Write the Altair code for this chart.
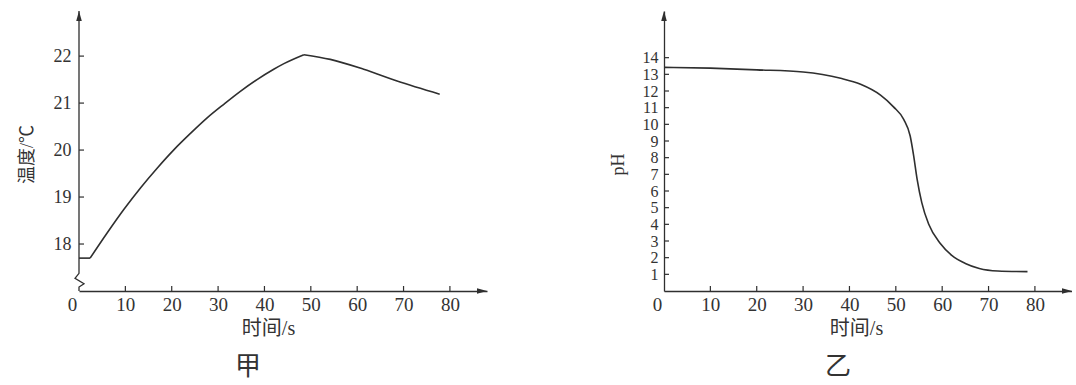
import altair as alt
import pandas as pd

# ---------- data ----------
# 甲: temperature vs time (seg: 0 = flat start, 1 = rise, 2 = fall)
t_jia = [0, 2.4, 2.4, 6.1, 9.7, 13.3, 16.9, 20.5, 24.1, 27.7, 31.3, 34.8, 38.4, 42.0,
         44.2, 48.5, 48.5, 54.2, 61.4, 68.6, 77.8]
temp_jia = [17.7, 17.7, 17.7, 18.24, 18.74, 19.2, 19.62, 20.01, 20.36, 20.69, 20.98,
            21.25, 21.5, 21.72, 21.84, 22.03, 22.03, 21.93, 21.72, 21.47, 21.19]
seg_jia = [0, 0, 1, 1, 1, 1, 1, 1, 1, 1, 1, 1, 1, 1, 1, 1, 2, 2, 2, 2, 2]

# 乙: pH vs time
t_yi = [0, 10, 20, 30, 38.1, 42.4, 46.7, 49.5, 51.7, 53.1, 53.8, 54.6, 55.6, 57.1,
        59.6, 62.0, 65.0, 68.0, 72.0, 78.4]
ph_yi = [13.42, 13.37, 13.27, 13.14, 12.76, 12.4, 11.75, 11.05, 10.3, 9.3, 8.2, 6.7,
         5.3, 4.0, 2.85, 2.15, 1.65, 1.35, 1.2, 1.16]
seg_yi = [0] * len(t_yi)

x_ticks = [0, 10, 20, 30, 40, 50, 60, 70, 80]
temp_ticks = [18, 19, 20, 21, 22]
ph_ticks = list(range(1, 15))

x_max = 88
temp_min, temp_max = 17, 22.96
ph_min, ph_max = 0, 16.8

# broken y axis of 甲 (axis line with the zig-zag break)
brk_x = [0, 0, 1.08, -0.86, 0, 0]
brk_y = [17, 17.085, 17.155, 17.27, 17.377, 22.96]

# ---------- style ----------
FONT = "Liberation Serif, Noto Sans CJK SC"
INK = "#2f2f2f"
TXT = "#333333"
W, H = 408, 280
ARROW_R = "M-1,-0.28L0,0L-1,0.28Z"
ARROW_U = "M-0.28,1L0,0L0.28,1Z"


def panel(t, v, seg, y_ticks, y_min, y_max, y_title, y_title_y, lab_pad, lab_size,
          title_pad, x_title_x, manual_y_axis, brk=None):
    xs = alt.Scale(domain=[0, x_max], nice=False, zero=False)
    ys = alt.Scale(domain=[y_min, y_max], nice=False, zero=False)
    xa = alt.Axis(
        values=x_ticks, ticks=False, grid=False, domain=True, domainColor=INK,
        domainWidth=1.3, labelFont=FONT, labelFontSize=19, labelColor=TXT,
        labelPadding=4,
        labelOffset={"condition": {"test": "datum.value == 0", "value": -7}, "value": 0},
        labelFlush=False, labelOverlap=False, title="时间/s", titleFont=FONT,
        titleFontSize=20, titleFontWeight="normal", titleColor=TXT, titlePadding=4,
        titleX=x_title_x)
    ya = alt.Axis(
        values=y_ticks, ticks=False, grid=False, domain=not manual_y_axis,
        domainColor=INK, domainWidth=1.3, labelFont=FONT, labelFontSize=lab_size,
        labelColor=TXT, labelPadding=lab_pad, labelOverlap=False, labelFlush=False,
        labelBound=False, title=y_title, titleFont=FONT, titleFontSize=18,
        titleFontWeight="normal", titleColor=TXT, titlePadding=title_pad,
        titleY=y_title_y)

    def X(f):
        return alt.X(f, scale=xs, axis=xa)

    def Y(f):
        return alt.Y(f, scale=ys, axis=ya)

    df = pd.DataFrame({"t": t, "v": v, "seg": seg})
    layers = [alt.Chart(df).mark_line(color=INK, strokeWidth=1.6,
                                      interpolate="monotone").encode(
        x=X("t:Q"), y=Y("v:Q"), detail="seg:N")]
    if manual_y_axis:
        bdf = pd.DataFrame({"t": brk[0], "v": brk[1], "i": list(range(len(brk[0])))})
        layers.append(alt.Chart(bdf).mark_line(color=INK, strokeWidth=1.3).encode(
            x=X("t:Q"), y=Y("v:Q"), order="i:Q"))
    xt = pd.DataFrame({"t": x_ticks[1:]})
    layers.append(alt.Chart(xt).mark_rule(color=INK, strokeWidth=1.2).encode(
        x=X("t:Q"), y=alt.value(H), y2=alt.value(H - 5)))
    yt = pd.DataFrame({"v": y_ticks})
    layers.append(alt.Chart(yt).mark_rule(color=INK, strokeWidth=1.2).encode(
        y=Y("v:Q"), x=alt.value(0), x2=alt.value(5)))
    ar = pd.DataFrame({"t": [x_max], "v": [y_min]})
    layers.append(alt.Chart(ar).mark_point(filled=True, shape=ARROW_R, size=400,
                                           color=INK, opacity=1).encode(
        x=X("t:Q"), y=Y("v:Q")))
    au = pd.DataFrame({"t": [0], "v": [y_max]})
    layers.append(alt.Chart(au).mark_point(filled=True, shape=ARROW_U, size=400,
                                           color=INK, opacity=1).encode(
        x=X("t:Q"), y=Y("v:Q")))
    return alt.layer(*layers)


left = panel(t_jia, temp_jia, seg_jia, temp_ticks, temp_min, temp_max, "温度/℃", 143,
             8, 18, 17, 189, True, (brk_x, brk_y)).properties(
    width=W, height=H,
    title=alt.TitleParams("甲", orient="bottom", font=FONT, fontSize=26,
                          fontWeight="normal", color=TXT, frame="group",
                          anchor="middle", dx=-35, offset=16))

right = panel(t_yi, ph_yi, seg_yi, ph_ticks, ph_min, ph_max, "pH", 153, 6, 16, 15,
              192, False).properties(
    width=W, height=H,
    title=alt.TitleParams("乙", orient="bottom", font=FONT, fontSize=26,
                          fontWeight="normal", color=TXT, frame="group",
                          anchor="middle", dx=-30, offset=16))

chart = alt.hconcat(left, right, spacing=122).properties(
    padding={"left": 18, "top": 8, "right": 0, "bottom": 0},
    background="white",
).configure_view(stroke=None)

chart.save("out.html", embed_options={"renderer": "svg", "actions": False})
